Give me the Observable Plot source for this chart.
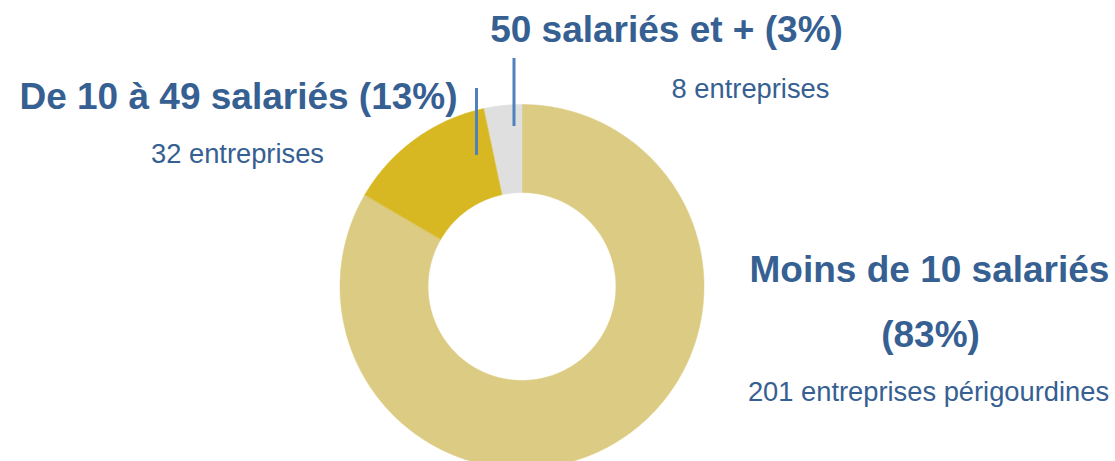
<!DOCTYPE html>
<html>
<head>
<meta charset="utf-8">
<script src="https://cdn.jsdelivr.net/npm/d3@7"></script>
<script src="https://cdn.jsdelivr.net/npm/@observablehq/plot@0.6"></script>
<style>
  html, body { margin: 0; padding: 0; background: #fff; overflow: hidden; }
  #chart svg { display: block; }
</style>
</head>
<body>
<div id="chart"></div>
<script>
// ---- data ----
const categories = ["Moins de 10 salariés", "De 10 à 49 salariés", "50 salariés et +"];
const counts = [201, 32, 8];
const percents = ["83%", "13%", "3%"];
const countLabels = ["201 entreprises périgourdines", "32 entreprises", "8 entreprises"];
const colors = ["#DCCC83", "#D7B823", "#DFDFDF"];

// ---- donut geometry built from the data ----
const innerRatio = 0.516;
const total = d3.sum(counts);
const points = [];
let cum = 0;
counts.forEach((v, i) => {
  const a0 = (cum / total) * 2 * Math.PI;
  cum += v;
  const a1 = (cum / total) * 2 * Math.PI;
  const n = Math.max(8, Math.ceil((a1 - a0) / 0.01));
  for (let k = 0; k <= n; k++) {
    const a = a0 + (a1 - a0) * k / n;
    points.push({cat: categories[i], x: Math.sin(a), y: Math.cos(a)});
  }
  for (let k = n; k >= 0; k--) {
    const a = a0 + (a1 - a0) * k / n;
    points.push({cat: categories[i], x: innerRatio * Math.sin(a), y: innerRatio * Math.cos(a)});
  }
});

const W = 1115, H = 461;
const cx = 521.5, cy = 286, R = 182;
const blue = "#366092";
const fontFam = "Liberation Sans, Arial, sans-serif";

// leader lines (in donut units)
const leaders = [
  {x: -0.25, y1: 1.088, y2: 0.72},
  {x: -0.044, y1: 1.253, y2: 0.879}
];

function label(text, px, py, size, weight) {
  return Plot.text([text], {
    frameAnchor: "top-left", dx: px, dy: py, text: d => d,
    textAnchor: "middle", lineAnchor: "bottom",
    fontSize: size, fontWeight: weight, fill: blue, fontFamily: fontFam
  });
}

const chart = Plot.plot({
  width: W, height: H,
  marginTop: 0, marginRight: 0, marginBottom: 0, marginLeft: 0,
  x: {domain: [-1, 1], range: [cx - R, cx + R], axis: null},
  y: {domain: [-1, 1], range: [cy + R, cy - R], axis: null},
  color: {domain: categories, range: colors},
  style: {background: "#fff", overflow: "hidden"},
  marks: [
    Plot.line(points, {x: "x", y: "y", z: "cat", fill: "cat", stroke: "cat", strokeWidth: 0.5, curve: "linear-closed"}),
    Plot.ruleX(leaders, {x: "x", y1: "y1", y2: "y2", stroke: "#4F81BD", strokeWidth: 3}),
    label(`${categories[2]} (${percents[2]})`, 666, 41, 37, "bold"),
    label(countLabels[2], 750, 97, 27.3, "normal"),
    label(`${categories[1]} (${percents[1]})`, 238, 108, 37, "bold"),
    label(countLabels[1], 237, 162, 27.3, "normal"),
    label(categories[0], 929, 281, 37, "bold"),
    label(`(${percents[0]})`, 930, 346, 37, "bold"),
    label(countLabels[0], 928, 400, 27.3, "normal")
  ]
});
document.getElementById("chart").appendChild(chart);
</script>
</body>
</html>
